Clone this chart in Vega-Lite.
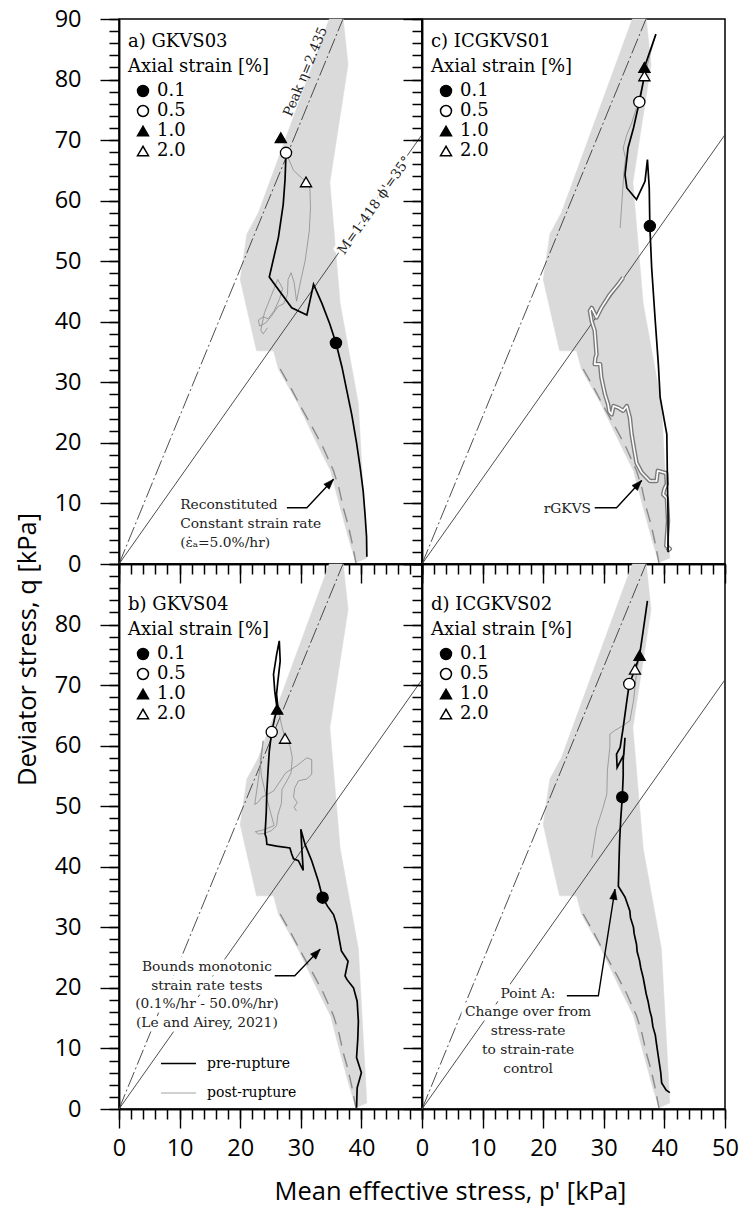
{
"$schema": "https://vega.github.io/schema/vega-lite/v6.json",
"background": "white",
"padding": {"left": 14, "top": 6, "right": 5, "bottom": 5},
"columns": 2,
"spacing": 0,
"bounds": "flush",
"config": {
 "view": {"stroke": "black", "strokeWidth": 1.5},
 "axis": {"grid": false, "domainColor": "black", "domainWidth": 1.5, "tickColor": "black", "tickWidth": 1.4, "labelFont": "Open Sans", "labelFontSize": 23.5, "labelColor": "black", "titleFont": "Open Sans", "titleFontSize": 25.5, "titleFontWeight": "normal", "titleColor": "black", "labelFlush": false, "labelOverlap": false, "labelBound": false},
 "legend": {"orient": "none", "padding": 0, "titleFont": "DejaVu Serif", "labelFont": "DejaVu Serif", "titleFontSize": 18, "labelFontSize": 18, "titleFontWeight": "normal", "titleColor": "black", "labelColor": "black", "titleLimit": 400, "labelLimit": 400},
 "text": {"font": "DejaVu Serif"}
},
"datasets": {
 "band": [{"i":1,"p":34.7,"q":90},{"i":2,"p":23.0,"q":58},{"i":3,"p":21.1,"q":54.5},{"i":4,"p":20.0,"q":47},{"i":5,"p":20.9,"q":43},{"i":6,"p":22.7,"q":35.2},{"i":7,"p":25.5,"q":35.2},{"i":8,"p":26.3,"q":32.2},{"i":9,"p":29.5,"q":26.5},{"i":10,"p":33.0,"q":19.2},{"i":11,"p":34.9,"q":15.4},{"i":12,"p":36.5,"q":9.3},{"i":13,"p":38.0,"q":3.8},{"i":14,"p":39.1,"q":0.2},{"i":15,"p":40.9,"q":1.0},{"i":16,"p":39.5,"q":26.5},{"i":17,"p":36.5,"q":43},{"i":18,"p":34.8,"q":63},{"i":19,"p":37.8,"q":82.5},{"i":20,"p":37.0,"q":90}],
 "bound": [{"i":1,"p":26.6,"q":32.2},{"i":2,"p":28.4,"q":29.0},{"i":3,"p":30.1,"q":25.8},{"i":4,"p":32.0,"q":22.4},{"i":5,"p":33.7,"q":19.2},{"i":6,"p":35.4,"q":15.4},{"i":7,"p":36.3,"q":12.5},{"i":8,"p":37.0,"q":9.3},{"i":9,"p":37.8,"q":6.5},{"i":10,"p":38.4,"q":3.8},{"i":11,"p":39.1,"q":0.2}],
 "refl": [{"s":"M","p":0,"q":0},{"s":"M","p":50,"q":70.9},{"s":"peak","p":0,"q":0},{"s":"peak","p":36.96,"q":90}],
 "lab": [{"s":"peak","t":"Peak η=2.435","p":30.8,"q":81.3},{"s":"M","t":"M=1.418 ϕ'=35°","p":41.9,"q":59.4}],
 "mk": [
  {"pn":"A","strain":"0.1","p":35.8,"q":36.5},{"pn":"A","strain":"0.5","p":27.56,"q":67.9},{"pn":"A","strain":"1.0","p":26.7,"q":70.4},{"pn":"A","strain":"2.0","p":30.86,"q":63.1},
  {"pn":"B","strain":"0.1","p":33.6,"q":34.9},{"pn":"B","strain":"0.5","p":25.2,"q":62.25},{"pn":"B","strain":"1.0","p":26.1,"q":66.0},{"pn":"B","strain":"2.0","p":27.4,"q":61.2},
  {"pn":"C","strain":"0.1","p":37.6,"q":55.8},{"pn":"C","strain":"0.5","p":35.86,"q":76.3},{"pn":"C","strain":"1.0","p":36.7,"q":82.0},{"pn":"C","strain":"2.0","p":36.7,"q":80.6},
  {"pn":"D","strain":"0.1","p":33.05,"q":51.5},{"pn":"D","strain":"0.5","p":34.2,"q":70.2},{"pn":"D","strain":"1.0","p":35.9,"q":74.9},{"pn":"D","strain":"2.0","p":35.15,"q":72.6}
 ],
 "notes": [
  {"pn":"A","t":"Reconstituted\nConstant strain rate\n(ε̇ₐ=5.0%/hr)","p":10.1,"q":10.9},
  {"pn":"B","t":"Bounds monotonic\nstrain rate tests\n(0.1%/hr - 50.0%/hr)\n(Le and Airey, 2021)","p":14.5,"q":24.6},
  {"pn":"C","t":"rGKVS","p":27.9,"q":9.1},
  {"pn":"D","t":"Point A:\nChange over from\nstress-rate\nto strain-rate\ncontrol","p":17.5,"q":20.2}
 ],
 "arr": [
  {"pn":"A","i":1,"p":27.7,"q":9.3},{"pn":"A","i":2,"p":31.0,"q":9.3},{"pn":"A","i":3,"p":35.4,"q":14.0},
  {"pn":"B","i":1,"p":25.7,"q":22.0},{"pn":"B","i":2,"p":29.0,"q":22.0},{"pn":"B","i":3,"p":33.2,"q":26.4},
  {"pn":"C","i":1,"p":28.5,"q":9.3},{"pn":"C","i":2,"p":32.1,"q":9.3},{"pn":"C","i":3,"p":36.25,"q":13.8},
  {"pn":"D","i":1,"p":23.9,"q":18.7},{"pn":"D","i":2,"p":29.1,"q":18.7},{"pn":"D","i":3,"p":31.85,"q":36.3}
 ],
 "A": [
  {"s":"pre-rupture","i":1,"p":40.9,"q":1.2},{"s":"pre-rupture","i":2,"p":40.85,"q":4.5},{"s":"pre-rupture","i":3,"p":40.6,"q":8.2},{"s":"pre-rupture","i":4,"p":40.3,"q":12.0},{"s":"pre-rupture","i":5,"p":39.8,"q":15.9},{"s":"pre-rupture","i":6,"p":39.2,"q":20.0},{"s":"pre-rupture","i":7,"p":38.4,"q":24.7},{"s":"pre-rupture","i":8,"p":37.6,"q":28.6},{"s":"pre-rupture","i":9,"p":36.8,"q":32.5},{"s":"pre-rupture","i":10,"p":35.8,"q":36.5},{"s":"pre-rupture","i":11,"p":34.8,"q":39.6},{"s":"pre-rupture","i":12,"p":33.5,"q":43.0},{"s":"pre-rupture","i":13,"p":32.1,"q":46.2},{"s":"pre-rupture","i":14,"p":31.0,"q":41.1},{"s":"pre-rupture","i":15,"p":28.5,"q":42.3},{"s":"pre-rupture","i":16,"p":24.8,"q":47.4},{"s":"pre-rupture","i":17,"p":26.3,"q":53.9},{"s":"pre-rupture","i":18,"p":27.1,"q":59.4},{"s":"pre-rupture","i":19,"p":27.4,"q":63.5},{"s":"pre-rupture","i":20,"p":27.56,"q":67.9},
  {"s":"post-rupture","i":1,"p":27.56,"q":67.9},{"s":"post-rupture","i":2,"p":28.8,"q":65.0},{"s":"post-rupture","i":3,"p":30.1,"q":63.8},{"s":"post-rupture","i":4,"p":30.86,"q":63.1},{"s":"post-rupture","i":5,"p":31.5,"q":62.1},{"s":"post-rupture","i":6,"p":31.6,"q":58.8},{"s":"post-rupture","i":7,"p":31.4,"q":55.0},{"s":"post-rupture","i":8,"p":30.7,"q":50.0},{"s":"post-rupture","i":9,"p":30.1,"q":47.3},{"s":"post-rupture","i":10,"p":29.3,"q":43.4},{"s":"post-rupture","i":11,"p":28.9,"q":46.5},{"s":"post-rupture","i":12,"p":28.4,"q":48.1},{"s":"post-rupture","i":13,"p":27.9,"q":47.0},{"s":"post-rupture","i":14,"p":27.8,"q":44.5},{"s":"post-rupture","i":15,"p":27.2,"q":43.0},{"s":"post-rupture","i":16,"p":26.2,"q":42.5},{"s":"post-rupture","i":17,"p":25.2,"q":41.0},{"s":"post-rupture","i":18,"p":24.2,"q":39.8},{"s":"post-rupture","i":19,"p":23.2,"q":39.3},{"s":"post-rupture","i":20,"p":23.0,"q":40.3},{"s":"post-rupture","i":21,"p":23.8,"q":40.8},{"s":"post-rupture","i":22,"p":24.6,"q":40.5},{"s":"post-rupture","i":23,"p":25.6,"q":41.8},{"s":"post-rupture","i":24,"p":26.5,"q":43.8},{"s":"post-rupture","i":25,"p":27.0,"q":45.5},{"s":"post-rupture","i":26,"p":26.2,"q":47.0},{"s":"post-rupture","i":27,"p":25.6,"q":45.5},{"s":"post-rupture","i":28,"p":25.0,"q":44.0},{"s":"post-rupture","i":29,"p":24.0,"q":41.5},{"s":"post-rupture","i":30,"p":23.4,"q":38.6},{"s":"post-rupture","i":31,"p":23.8,"q":38.0},{"s":"post-rupture","i":32,"p":24.5,"q":39.0}
 ],
 "B": [
  {"s":"pre-rupture","i":1,"p":39.2,"q":0.2},{"s":"pre-rupture","i":2,"p":39.3,"q":3.5},{"s":"pre-rupture","i":3,"p":40.0,"q":6.0},{"s":"pre-rupture","i":4,"p":39.2,"q":8.5},{"s":"pre-rupture","i":5,"p":39.4,"q":11.5},{"s":"pre-rupture","i":6,"p":39.5,"q":14.5},{"s":"pre-rupture","i":7,"p":39.3,"q":17.8},{"s":"pre-rupture","i":8,"p":38.7,"q":20.0},{"s":"pre-rupture","i":9,"p":37.6,"q":21.4},{"s":"pre-rupture","i":10,"p":37.3,"q":22.0},{"s":"pre-rupture","i":11,"p":37.8,"q":24.4},{"s":"pre-rupture","i":12,"p":36.7,"q":26.1},{"s":"pre-rupture","i":13,"p":36.3,"q":28.3},{"s":"pre-rupture","i":14,"p":35.9,"q":30.5},{"s":"pre-rupture","i":15,"p":35.4,"q":32.1},{"s":"pre-rupture","i":16,"p":34.4,"q":33.5},{"s":"pre-rupture","i":17,"p":33.6,"q":34.9},{"s":"pre-rupture","i":18,"p":32.9,"q":37.6},{"s":"pre-rupture","i":19,"p":31.8,"q":41.0},{"s":"pre-rupture","i":20,"p":30.7,"q":43.7},{"s":"pre-rupture","i":21,"p":30.0,"q":46.2},{"s":"pre-rupture","i":22,"p":30.2,"q":42.5},{"s":"pre-rupture","i":23,"p":30.4,"q":39.4},{"s":"pre-rupture","i":24,"p":29.6,"q":41.0},{"s":"pre-rupture","i":25,"p":28.8,"q":41.3},{"s":"pre-rupture","i":26,"p":28.5,"q":42.1},{"s":"pre-rupture","i":27,"p":28.2,"q":43.1},{"s":"pre-rupture","i":28,"p":26.0,"q":43.4},{"s":"pre-rupture","i":29,"p":24.4,"q":43.7},{"s":"pre-rupture","i":30,"p":24.3,"q":44.8},{"s":"pre-rupture","i":31,"p":24.1,"q":45.4},{"s":"pre-rupture","i":32,"p":24.3,"q":49.0},{"s":"pre-rupture","i":33,"p":24.4,"q":52.5},{"s":"pre-rupture","i":34,"p":24.6,"q":56.0},{"s":"pre-rupture","i":35,"p":24.8,"q":59.1},{"s":"pre-rupture","i":36,"p":25.2,"q":62.25},{"s":"pre-rupture","i":37,"p":25.7,"q":64.6},{"s":"pre-rupture","i":38,"p":26.1,"q":66.0},{"s":"pre-rupture","i":39,"p":25.7,"q":69.0},{"s":"pre-rupture","i":40,"p":25.5,"q":71.8},{"s":"pre-rupture","i":41,"p":26.0,"q":75.0},{"s":"pre-rupture","i":42,"p":26.45,"q":77.3},{"s":"pre-rupture","i":43,"p":26.6,"q":74.0},{"s":"pre-rupture","i":44,"p":26.2,"q":70.5},{"s":"pre-rupture","i":45,"p":26.0,"q":68.5},{"s":"pre-rupture","i":46,"p":26.2,"q":66.5},
  {"s":"post-rupture","i":1,"p":26.2,"q":66.5},{"s":"post-rupture","i":2,"p":26.8,"q":63.5},{"s":"post-rupture","i":3,"p":27.4,"q":61.2},{"s":"post-rupture","i":4,"p":28.2,"q":60.0},{"s":"post-rupture","i":5,"p":28.6,"q":58.0},{"s":"post-rupture","i":6,"p":28.4,"q":55.5},{"s":"post-rupture","i":7,"p":27.6,"q":54.0},{"s":"post-rupture","i":8,"p":26.9,"q":52.8},{"s":"post-rupture","i":9,"p":26.8,"q":50.5},{"s":"post-rupture","i":10,"p":26.2,"q":48.5},{"s":"post-rupture","i":11,"p":26.0,"q":46.8},{"s":"post-rupture","i":12,"p":25.2,"q":46.0},{"s":"post-rupture","i":13,"p":24.0,"q":45.5},{"s":"post-rupture","i":14,"p":23.0,"q":45.4},{"s":"post-rupture","i":15,"p":22.5,"q":45.8},{"s":"post-rupture","i":16,"p":23.5,"q":46.0},{"s":"post-rupture","i":17,"p":24.6,"q":46.4},{"s":"post-rupture","i":18,"p":25.6,"q":46.8},{"s":"post-rupture","i":19,"p":25.0,"q":49.0},{"s":"post-rupture","i":20,"p":24.2,"q":52.0},{"s":"post-rupture","i":21,"p":23.5,"q":55.0},{"s":"post-rupture","i":22,"p":23.3,"q":57.5},{"s":"post-rupture","i":23,"p":23.8,"q":60.8},{"s":"post-rupture","i":24,"p":23.5,"q":58.0},{"s":"post-rupture","i":25,"p":23.0,"q":54.5},{"s":"post-rupture","i":26,"p":22.4,"q":50.3},{"s":"post-rupture","i":27,"p":22.9,"q":50.6},{"s":"post-rupture","i":28,"p":23.6,"q":51.5},{"s":"post-rupture","i":29,"p":25.5,"q":52.5},{"s":"post-rupture","i":30,"p":27.5,"q":55.5},{"s":"post-rupture","i":31,"p":29.5,"q":56.8},{"s":"post-rupture","i":32,"p":31.0,"q":58.0},{"s":"post-rupture","i":33,"p":31.8,"q":57.7},{"s":"post-rupture","i":34,"p":31.8,"q":55.3},{"s":"post-rupture","i":35,"p":31.0,"q":54.5},{"s":"post-rupture","i":36,"p":29.6,"q":54.2},{"s":"post-rupture","i":37,"p":29.0,"q":53.0},{"s":"post-rupture","i":38,"p":28.8,"q":51.5},{"s":"post-rupture","i":39,"p":29.4,"q":50.6},{"s":"post-rupture","i":40,"p":28.9,"q":49.8},{"s":"post-rupture","i":41,"p":29.3,"q":49.2}
 ],
 "C": [
  {"s":"pre-rupture","i":1,"p":40.6,"q":2.0},{"s":"pre-rupture","i":2,"p":40.6,"q":8.0},{"s":"pre-rupture","i":3,"p":40.5,"q":13.7},{"s":"pre-rupture","i":4,"p":40.4,"q":21.4},{"s":"pre-rupture","i":5,"p":39.3,"q":27.5},{"s":"pre-rupture","i":6,"p":39.0,"q":33.0},{"s":"pre-rupture","i":7,"p":38.5,"q":40.0},{"s":"pre-rupture","i":8,"p":37.9,"q":48.9},{"s":"pre-rupture","i":9,"p":37.6,"q":55.8},{"s":"pre-rupture","i":10,"p":37.5,"q":62.1},{"s":"pre-rupture","i":11,"p":37.2,"q":66.8},{"s":"pre-rupture","i":12,"p":36.8,"q":63.2},{"s":"pre-rupture","i":13,"p":35.4,"q":60.2},{"s":"pre-rupture","i":14,"p":33.8,"q":62.1},{"s":"pre-rupture","i":15,"p":33.5,"q":64.3},{"s":"pre-rupture","i":16,"p":34.0,"q":68.7},{"s":"pre-rupture","i":17,"p":34.9,"q":72.0},{"s":"pre-rupture","i":18,"p":35.86,"q":76.3},{"s":"pre-rupture","i":19,"p":36.7,"q":80.6},{"s":"pre-rupture","i":20,"p":36.7,"q":82.0},{"s":"pre-rupture","i":21,"p":38.6,"q":87.5},
  {"s":"post-rupture","i":1,"p":38.6,"q":87.5},{"s":"post-rupture","i":2,"p":37.6,"q":84.0},{"s":"post-rupture","i":3,"p":36.6,"q":80.0},{"s":"post-rupture","i":4,"p":35.6,"q":76.0},{"s":"post-rupture","i":5,"p":34.6,"q":72.8},{"s":"post-rupture","i":6,"p":33.8,"q":70.9},{"s":"post-rupture","i":7,"p":33.2,"q":68.7},{"s":"post-rupture","i":8,"p":33.6,"q":67.0},{"s":"post-rupture","i":9,"p":33.3,"q":64.5},{"s":"post-rupture","i":10,"p":33.1,"q":61.5},{"s":"post-rupture","i":11,"p":32.9,"q":58.5},{"s":"post-rupture","i":12,"p":32.7,"q":55.5},
  {"s":"rGKVS","i":1,"p":40.4,"q":2.1},{"s":"rGKVS","i":2,"p":40.9,"q":2.5},{"s":"rGKVS","i":3,"p":40.3,"q":3.0},{"s":"rGKVS","i":4,"p":40.6,"q":7.1},{"s":"rGKVS","i":5,"p":40.4,"q":10.9},{"s":"rGKVS","i":6,"p":39.8,"q":11.5},{"s":"rGKVS","i":7,"p":40.0,"q":12.4},{"s":"rGKVS","i":8,"p":40.4,"q":13.2},{"s":"rGKVS","i":9,"p":40.3,"q":15.0},{"s":"rGKVS","i":10,"p":38.9,"q":15.4},{"s":"rGKVS","i":11,"p":38.7,"q":13.7},{"s":"rGKVS","i":12,"p":37.6,"q":13.7},{"s":"rGKVS","i":13,"p":36.25,"q":15.1},{"s":"rGKVS","i":14,"p":35.4,"q":16.7},{"s":"rGKVS","i":15,"p":35.0,"q":19.0},{"s":"rGKVS","i":16,"p":34.6,"q":21.4},{"s":"rGKVS","i":17,"p":34.3,"q":24.2},{"s":"rGKVS","i":18,"p":33.8,"q":26.1},{"s":"rGKVS","i":19,"p":33.2,"q":25.3},{"s":"rGKVS","i":20,"p":32.4,"q":25.8},{"s":"rGKVS","i":21,"p":31.6,"q":26.1},{"s":"rGKVS","i":22,"p":31.3,"q":24.7},{"s":"rGKVS","i":23,"p":30.9,"q":25.2},{"s":"rGKVS","i":24,"p":30.7,"q":26.4},{"s":"rGKVS","i":25,"p":30.2,"q":28.0},{"s":"rGKVS","i":26,"p":29.6,"q":30.8},{"s":"rGKVS","i":27,"p":29.4,"q":33.0},{"s":"rGKVS","i":28,"p":28.5,"q":33.0},{"s":"rGKVS","i":29,"p":28.6,"q":34.0},{"s":"rGKVS","i":30,"p":28.8,"q":34.6},{"s":"rGKVS","i":31,"p":28.5,"q":38.5},{"s":"rGKVS","i":32,"p":28.0,"q":40.1},{"s":"rGKVS","i":33,"p":27.7,"q":41.8},{"s":"rGKVS","i":34,"p":28.0,"q":42.3},{"s":"rGKVS","i":35,"p":28.8,"q":40.7},{"s":"rGKVS","i":36,"p":29.6,"q":42.3},{"s":"rGKVS","i":37,"p":31.0,"q":44.5},{"s":"rGKVS","i":38,"p":32.4,"q":46.2},{"s":"rGKVS","i":39,"p":33.2,"q":47.3}
 ],
 "D": [
  {"s":"pre-rupture","i":1,"p":40.9,"q":2.7},{"s":"pre-rupture","i":2,"p":40.3,"q":3.1},{"s":"pre-rupture","i":3,"p":39.55,"q":4.3},{"s":"pre-rupture","i":4,"p":39.4,"q":6.0},{"s":"pre-rupture","i":5,"p":39.1,"q":8.0},{"s":"pre-rupture","i":6,"p":38.7,"q":10.7},{"s":"pre-rupture","i":7,"p":38.5,"q":12.2},{"s":"pre-rupture","i":8,"p":38.1,"q":13.6},{"s":"pre-rupture","i":9,"p":37.9,"q":15.1},{"s":"pre-rupture","i":10,"p":37.6,"q":16.2},{"s":"pre-rupture","i":11,"p":37.3,"q":17.8},{"s":"pre-rupture","i":12,"p":37.0,"q":19.0},{"s":"pre-rupture","i":13,"p":36.7,"q":20.6},{"s":"pre-rupture","i":14,"p":36.5,"q":21.7},{"s":"pre-rupture","i":15,"p":36.1,"q":23.3},{"s":"pre-rupture","i":16,"p":35.9,"q":24.5},{"s":"pre-rupture","i":17,"p":35.5,"q":26.0},{"s":"pre-rupture","i":18,"p":35.4,"q":27.2},{"s":"pre-rupture","i":19,"p":35.0,"q":29.0},{"s":"pre-rupture","i":20,"p":34.9,"q":30.0},{"s":"pre-rupture","i":21,"p":34.4,"q":31.6},{"s":"pre-rupture","i":22,"p":34.3,"q":32.7},{"s":"pre-rupture","i":23,"p":33.5,"q":35.0},{"s":"pre-rupture","i":24,"p":32.4,"q":36.8},{"s":"pre-rupture","i":25,"p":32.6,"q":44.0},{"s":"pre-rupture","i":26,"p":32.8,"q":48.0},{"s":"pre-rupture","i":27,"p":33.05,"q":51.5},{"s":"pre-rupture","i":28,"p":33.2,"q":55.0},{"s":"pre-rupture","i":29,"p":33.2,"q":57.5},{"s":"pre-rupture","i":30,"p":33.5,"q":61.3},{"s":"pre-rupture","i":31,"p":33.3,"q":58.5},{"s":"pre-rupture","i":32,"p":32.2,"q":56.4},{"s":"pre-rupture","i":33,"p":32.1,"q":58.6},{"s":"pre-rupture","i":34,"p":32.7,"q":59.7},{"s":"pre-rupture","i":35,"p":33.2,"q":63.0},{"s":"pre-rupture","i":36,"p":33.8,"q":67.4},{"s":"pre-rupture","i":37,"p":34.2,"q":70.2},{"s":"pre-rupture","i":38,"p":35.15,"q":72.6},{"s":"pre-rupture","i":39,"p":35.9,"q":74.9},{"s":"pre-rupture","i":40,"p":36.5,"q":79.0},{"s":"pre-rupture","i":41,"p":37.2,"q":83.9},
  {"s":"post-rupture","i":1,"p":36.0,"q":75.5},{"s":"post-rupture","i":2,"p":35.4,"q":72.0},{"s":"post-rupture","i":3,"p":34.9,"q":67.4},{"s":"post-rupture","i":4,"p":34.3,"q":64.1},{"s":"post-rupture","i":5,"p":33.0,"q":63.2},{"s":"post-rupture","i":6,"p":31.8,"q":62.5},{"s":"post-rupture","i":7,"p":31.0,"q":61.9},{"s":"post-rupture","i":8,"p":31.0,"q":59.7},{"s":"post-rupture","i":9,"p":30.6,"q":56.0},{"s":"post-rupture","i":10,"p":30.5,"q":52.0},{"s":"post-rupture","i":11,"p":29.8,"q":49.5},{"s":"post-rupture","i":12,"p":28.8,"q":46.4},{"s":"post-rupture","i":13,"p":28.0,"q":41.5}
 ]
},
"resolve": {"legend": {"shape": "independent", "fill": "independent", "color": "independent", "strokeWidth": "independent"}},
"concat": [
 {
  "width": 303, "height": 545,
  "resolve": {"axis": {"x": "independent", "y": "independent"}},
  "encoding": {
   "x": {"field": "p", "type": "quantitative", "scale": {"domain": [0, 50], "nice": false}, "axis": null},
   "y": {"field": "q", "type": "quantitative", "scale": {"domain": [0, 90], "nice": false}, "axis": null}
  },
  "layer": [
   {"data": {"name": "band"}, "mark": {"type": "line", "fill": "#dadada", "stroke": "#dadada", "strokeWidth": 0.5, "interpolate": "linear-closed"},
    "encoding": {"order": {"field": "i", "type": "quantitative"},
     "x": {"field": "p", "type": "quantitative", "scale": {"domain": [0, 50], "nice": false}, "axis": {"orient": "bottom", "values": [0,2,4,6,8,10,12,14,16,18,20,22,24,26,28,30,32,34,36,38,40,42,44,46,48,50], "tickSize": 10, "tickColor": "black", "tickWidth": 1.5, "labels": false, "title": null}},
     "y": {"field": "q", "type": "quantitative", "scale": {"domain": [0, 90], "nice": false}, "axis": {"orient": "left", "values": [0,2,4,6,8,10,12,14,16,18,20,22,24,26,28,30,32,34,36,38,40,42,44,46,48,50,52,54,56,58,60,62,64,66,68,70,72,74,76,78,80,82,84,86,88,90], "tickSize": 10, "tickColor": "black", "tickWidth": 1.5, "labels": false, "title": null}}}},
   {"data": {"name": "bound"}, "mark": {"type": "line", "stroke": "#8a8a8a", "strokeWidth": 1.4, "strokeDash": [14, 8]},
    "encoding": {"order": {"field": "i", "type": "quantitative"},
     "x": {"field": "p", "type": "quantitative", "scale": {"domain": [0, 50], "nice": false}, "axis": {"orient": "bottom", "values": [0,10,20,30,40,50], "tickSize": 19, "labels": false, "title": null}},
     "y": {"field": "q", "type": "quantitative", "scale": {"domain": [0, 90], "nice": false}, "axis": {"orient": "left", "values": [0,10,20,30,40,50,60,70,80,90], "tickSize": 19, "labelPadding": 19, "title": "Deviator stress, q [kPa]", "titleX": -84, "titleY": 630, "titleBaseline": "alphabetic"}}}},
   {"data": {"name": "refl"}, "transform": [{"filter": "datum.s === 'M'"}], "mark": {"type": "line", "stroke": "#3a3a3a", "strokeWidth": 0.9}, "encoding": {}},
   {"data": {"name": "refl"}, "transform": [{"filter": "datum.s === 'peak'"}], "mark": {"type": "line", "stroke": "#3a3a3a", "strokeWidth": 0.9, "strokeDash": [16, 3, 2, 3]}, "encoding": {}},
   {"data": {"name": "lab"}, "transform": [{"filter": "datum.s === 'M'"}], "mark": {"type": "text", "angle": -54.8, "align": "center", "baseline": "middle", "dy": 2, "fontSize": 13.5, "fill": "white", "stroke": "white", "strokeWidth": 6, "strokeJoin": "round"}, "encoding": {"text": {"field": "t"}}},
   {"data": {"name": "lab"}, "transform": [{"filter": "datum.s === 'M'"}], "mark": {"type": "text", "angle": -54.8, "align": "center", "baseline": "middle", "dy": 2, "fontSize": 13.5, "fill": "#222"}, "encoding": {"text": {"field": "t"}}},
   {"data": {"name": "lab"}, "transform": [{"filter": "datum.s === 'peak'"}], "mark": {"type": "text", "angle": -67.7, "align": "center", "baseline": "middle", "fontSize": 13.5, "fill": "#222"}, "encoding": {"text": {"field": "t"}}},
   {"data": {"name": "notes"}, "transform": [{"filter": "datum.pn === 'A'"}], "mark": {"type": "text", "align": "left", "baseline": "top", "lineBreak": "\n", "lineHeight": 19, "fontSize": 13.8, "fill": "#222"}, "encoding": {"text": {"field": "t"}}},
   {"data": {"name": "arr"}, "transform": [{"filter": "datum.pn === 'A'"}], "mark": {"type": "line", "stroke": "black", "strokeWidth": 1.4}, "encoding": {"order": {"field": "i", "type": "quantitative"}}},
   {"data": {"name": "arr"}, "transform": [{"filter": "datum.pn === 'A' && datum.i === 3"}], "mark": {"type": "point", "shape": "M0,0L0.65,1.8L-0.65,1.8Z", "filled": true, "fill": "black", "stroke": "black", "strokeWidth": 0.5, "size": 130, "angle": 43, "opacity": 1}, "encoding": {}},
   {"data": {"name": "A"}, "transform": [{"filter": "datum.s === 'post-rupture'"}], "mark": {"type": "line"}, "encoding": {"order": {"field": "i", "type": "quantitative"}, "color": {"field": "s", "type": "nominal", "scale": {"domain": ["pre-rupture", "post-rupture"], "range": ["#000000", "#8c8c8c"]}, "legend": null}, "strokeWidth": {"field": "s", "type": "ordinal", "scale": {"domain": ["pre-rupture", "post-rupture"], "range": [1.7, 0.8]}, "legend": null}}},
   {"data": {"name": "A"}, "transform": [{"filter": "datum.s === 'pre-rupture'"}], "mark": {"type": "line"}, "encoding": {"order": {"field": "i", "type": "quantitative"}, "color": {"field": "s", "type": "nominal", "scale": {"domain": ["pre-rupture", "post-rupture"], "range": ["#000000", "#8c8c8c"]}, "legend": null}, "strokeWidth": {"field": "s", "type": "ordinal", "scale": {"domain": ["pre-rupture", "post-rupture"], "range": [1.7, 0.8]}, "legend": null}}},
   {"data": {"name": "mk"}, "transform": [{"filter": "datum.pn === 'A'"}], "mark": {"type": "point", "filled": true, "stroke": "black", "strokeWidth": 1.3, "size": 125, "opacity": 1},
    "encoding": {
     "shape": {"field": "strain", "type": "nominal", "scale": {"domain": ["0.1", "0.5", "1.0", "2.0"], "range": ["circle", "circle", "triangle-up", "triangle-up"]}, "legend": {"title": ["a) GKVS03", "Axial strain [%]"], "legendX": 9, "legendY": 14, "titleLineHeight": 25, "titlePadding": 6, "symbolOffset": 6, "labelOffset": 5, "rowPadding": 2, "symbolSize": 120, "encode": {"symbols": {"update": {"stroke": {"value": "black"}, "strokeWidth": {"value": 1.3}}}}}},
     "fill": {"field": "strain", "type": "nominal", "scale": {"domain": ["0.1", "0.5", "1.0", "2.0"], "range": ["black", "white", "black", "white"]}, "legend": {"title": ["a) GKVS03", "Axial strain [%]"], "legendX": 9, "legendY": 14, "titleLineHeight": 25, "titlePadding": 6, "symbolOffset": 6, "labelOffset": 5, "rowPadding": 2, "symbolSize": 120, "encode": {"symbols": {"update": {"stroke": {"value": "black"}, "strokeWidth": {"value": 1.3}}}}}}
    }}
  ]
 },
 {
  "width": 303, "height": 545,
  "resolve": {"axis": {"x": "independent", "y": "independent"}},
  "encoding": {
   "x": {"field": "p", "type": "quantitative", "scale": {"domain": [0, 50], "nice": false}, "axis": null},
   "y": {"field": "q", "type": "quantitative", "scale": {"domain": [0, 90], "nice": false}, "axis": null}
  },
  "layer": [
   {"data": {"name": "band"}, "mark": {"type": "line", "fill": "#dadada", "stroke": "#dadada", "strokeWidth": 0.5, "interpolate": "linear-closed"},
    "encoding": {"order": {"field": "i", "type": "quantitative"},
     "x": {"field": "p", "type": "quantitative", "scale": {"domain": [0, 50], "nice": false}, "axis": {"orient": "bottom", "values": [0,2,4,6,8,10,12,14,16,18,20,22,24,26,28,30,32,34,36,38,40,42,44,46,48,50], "tickSize": 10, "tickColor": "black", "tickWidth": 1.5, "labels": false, "title": null}},
     "y": {"field": "q", "type": "quantitative", "scale": {"domain": [0, 90], "nice": false}, "axis": {"orient": "left", "values": [0,2,4,6,8,10,12,14,16,18,20,22,24,26,28,30,32,34,36,38,40,42,44,46,48,50,52,54,56,58,60,62,64,66,68,70,72,74,76,78,80,82,84,86,88,90], "tickSize": 10, "tickColor": "black", "tickWidth": 1.5, "labels": false, "title": null}}}},
   {"data": {"name": "bound"}, "mark": {"type": "line", "stroke": "#8a8a8a", "strokeWidth": 1.4, "strokeDash": [14, 8]},
    "encoding": {"order": {"field": "i", "type": "quantitative"},
     "x": {"field": "p", "type": "quantitative", "scale": {"domain": [0, 50], "nice": false}, "axis": {"orient": "bottom", "values": [0,10,20,30,40,50], "tickSize": 19, "labels": false, "title": null}},
     "y": {"field": "q", "type": "quantitative", "scale": {"domain": [0, 90], "nice": false}, "axis": {"orient": "left", "values": [0,10,20,30,40,50,60,70,80,90], "tickSize": 19, "labels": false, "title": null}}}},
   {"data": {"name": "refl"}, "transform": [{"filter": "datum.s === 'M'"}], "mark": {"type": "line", "stroke": "#3a3a3a", "strokeWidth": 0.9}, "encoding": {}},
   {"data": {"name": "refl"}, "transform": [{"filter": "datum.s === 'peak'"}], "mark": {"type": "line", "stroke": "#3a3a3a", "strokeWidth": 0.9, "strokeDash": [16, 3, 2, 3]}, "encoding": {}},
   {"data": {"name": "notes"}, "transform": [{"filter": "datum.pn === 'C'"}], "mark": {"type": "text", "align": "right", "baseline": "middle", "fontSize": 13.8, "fill": "#222"}, "encoding": {"text": {"field": "t"}}},
   {"data": {"name": "arr"}, "transform": [{"filter": "datum.pn === 'C'"}], "mark": {"type": "line", "stroke": "black", "strokeWidth": 1.4}, "encoding": {"order": {"field": "i", "type": "quantitative"}}},
   {"data": {"name": "arr"}, "transform": [{"filter": "datum.pn === 'C' && datum.i === 3"}], "mark": {"type": "point", "shape": "M0,0L0.65,1.8L-0.65,1.8Z", "filled": true, "fill": "black", "stroke": "black", "strokeWidth": 0.5, "size": 130, "angle": 42.7, "opacity": 1}, "encoding": {}},
   {"data": {"name": "C"}, "transform": [{"filter": "datum.s === 'post-rupture'"}], "mark": {"type": "line"}, "encoding": {"order": {"field": "i", "type": "quantitative"}, "color": {"field": "s", "type": "nominal", "scale": {"domain": ["pre-rupture", "post-rupture"], "range": ["#000000", "#8c8c8c"]}, "legend": null}, "strokeWidth": {"field": "s", "type": "ordinal", "scale": {"domain": ["pre-rupture", "post-rupture"], "range": [1.7, 0.8]}, "legend": null}}},
   {"data": {"name": "C"}, "transform": [{"filter": "datum.s === 'rGKVS'"}], "mark": {"type": "line", "stroke": "#7a7a7a", "strokeWidth": 4.4, "strokeJoin": "round"}, "encoding": {"order": {"field": "i", "type": "quantitative"}}},
   {"data": {"name": "C"}, "transform": [{"filter": "datum.s === 'rGKVS'"}], "mark": {"type": "line", "stroke": "white", "strokeWidth": 1.6, "strokeJoin": "round"}, "encoding": {"order": {"field": "i", "type": "quantitative"}}},
   {"data": {"name": "C"}, "transform": [{"filter": "datum.s === 'pre-rupture'"}], "mark": {"type": "line"}, "encoding": {"order": {"field": "i", "type": "quantitative"}, "color": {"field": "s", "type": "nominal", "scale": {"domain": ["pre-rupture", "post-rupture"], "range": ["#000000", "#8c8c8c"]}, "legend": null}, "strokeWidth": {"field": "s", "type": "ordinal", "scale": {"domain": ["pre-rupture", "post-rupture"], "range": [1.7, 0.8]}, "legend": null}}},
   {"data": {"name": "mk"}, "transform": [{"filter": "datum.pn === 'C'"}], "mark": {"type": "point", "filled": true, "stroke": "black", "strokeWidth": 1.3, "size": 125, "opacity": 1},
    "encoding": {
     "shape": {"field": "strain", "type": "nominal", "scale": {"domain": ["0.1", "0.5", "1.0", "2.0"], "range": ["circle", "circle", "triangle-up", "triangle-up"]}, "legend": {"title": ["c) ICGKVS01", "Axial strain [%]"], "legendX": 9, "legendY": 14, "titleLineHeight": 25, "titlePadding": 6, "symbolOffset": 6, "labelOffset": 5, "rowPadding": 2, "symbolSize": 120, "encode": {"symbols": {"update": {"stroke": {"value": "black"}, "strokeWidth": {"value": 1.3}}}}}},
     "fill": {"field": "strain", "type": "nominal", "scale": {"domain": ["0.1", "0.5", "1.0", "2.0"], "range": ["black", "white", "black", "white"]}, "legend": {"title": ["c) ICGKVS01", "Axial strain [%]"], "legendX": 9, "legendY": 14, "titleLineHeight": 25, "titlePadding": 6, "symbolOffset": 6, "labelOffset": 5, "rowPadding": 2, "symbolSize": 120, "encode": {"symbols": {"update": {"stroke": {"value": "black"}, "strokeWidth": {"value": 1.3}}}}}}
    }}
  ]
 },
 {
  "width": 303, "height": 545,
  "resolve": {"axis": {"x": "independent", "y": "independent"}},
  "encoding": {
   "x": {"field": "p", "type": "quantitative", "scale": {"domain": [0, 50], "nice": false}, "axis": null},
   "y": {"field": "q", "type": "quantitative", "scale": {"domain": [0, 90], "nice": false}, "axis": null}
  },
  "layer": [
   {"data": {"name": "band"}, "mark": {"type": "line", "fill": "#dadada", "stroke": "#dadada", "strokeWidth": 0.5, "interpolate": "linear-closed"},
    "encoding": {"order": {"field": "i", "type": "quantitative"},
     "x": {"field": "p", "type": "quantitative", "scale": {"domain": [0, 50], "nice": false}, "axis": {"orient": "bottom", "values": [0,2,4,6,8,10,12,14,16,18,20,22,24,26,28,30,32,34,36,38,40,42,44,46,48,50], "tickSize": 10, "tickColor": "black", "tickWidth": 1.5, "labels": false, "title": null}},
     "y": {"field": "q", "type": "quantitative", "scale": {"domain": [0, 90], "nice": false}, "axis": {"orient": "left", "values": [0,2,4,6,8,10,12,14,16,18,20,22,24,26,28,30,32,34,36,38,40,42,44,46,48,50,52,54,56,58,60,62,64,66,68,70,72,74,76,78,80,82,84,86,88,90], "tickSize": 10, "tickColor": "black", "tickWidth": 1.5, "labels": false, "title": null}}}},
   {"data": {"name": "bound"}, "mark": {"type": "line", "stroke": "#8a8a8a", "strokeWidth": 1.4, "strokeDash": [14, 8]},
    "encoding": {"order": {"field": "i", "type": "quantitative"},
     "x": {"field": "p", "type": "quantitative", "scale": {"domain": [0, 50], "nice": false}, "axis": {"orient": "bottom", "values": [0,10,20,30,40], "tickSize": 19, "labelPadding": 8, "title": "Mean effective stress, p' [kPa]", "titleX": 331, "titleY": 90, "titleBaseline": "alphabetic"}},
     "y": {"field": "q", "type": "quantitative", "scale": {"domain": [0, 90], "nice": false}, "axis": {"orient": "left", "values": [0,10,20,30,40,50,60,70,80], "tickSize": 19, "labelPadding": 19, "title": null}}}},
   {"data": {"name": "refl"}, "transform": [{"filter": "datum.s === 'M'"}], "mark": {"type": "line", "stroke": "#3a3a3a", "strokeWidth": 0.9}, "encoding": {}},
   {"data": {"name": "refl"}, "transform": [{"filter": "datum.s === 'peak'"}], "mark": {"type": "line", "stroke": "#3a3a3a", "strokeWidth": 0.9, "strokeDash": [16, 3, 2, 3]}, "encoding": {}},
   {"data": {"name": "notes"}, "transform": [{"filter": "datum.pn === 'B'"}], "mark": {"type": "text", "align": "center", "baseline": "top", "lineBreak": "\n", "lineHeight": 18.7, "fontSize": 13.8, "fill": "white", "stroke": "white", "strokeWidth": 9, "strokeJoin": "round"}, "encoding": {"text": {"field": "t"}}},
   {"data": {"name": "notes"}, "transform": [{"filter": "datum.pn === 'B'"}], "mark": {"type": "text", "align": "center", "baseline": "top", "lineBreak": "\n", "lineHeight": 18.7, "fontSize": 13.8, "fill": "#222"}, "encoding": {"text": {"field": "t"}}},
   {"data": {"name": "arr"}, "transform": [{"filter": "datum.pn === 'B'"}], "mark": {"type": "line", "stroke": "black", "strokeWidth": 1.4}, "encoding": {"order": {"field": "i", "type": "quantitative"}}},
   {"data": {"name": "arr"}, "transform": [{"filter": "datum.pn === 'B' && datum.i === 3"}], "mark": {"type": "point", "shape": "M0,0L0.65,1.8L-0.65,1.8Z", "filled": true, "fill": "black", "stroke": "black", "strokeWidth": 0.5, "size": 130, "angle": 43, "opacity": 1}, "encoding": {}},
   {"data": {"name": "B"}, "transform": [{"filter": "datum.s === 'post-rupture'"}], "mark": {"type": "line"}, "encoding": {"order": {"field": "i", "type": "quantitative"}, "color": {"field": "s", "type": "nominal", "scale": {"domain": ["pre-rupture", "post-rupture"], "range": ["#000000", "#8c8c8c"]}, "legend": {"title": null, "legendX": 41, "legendY": 481, "symbolType": "stroke", "symbolSize": 1225, "labelFontSize": 14, "labelOffset": 10, "rowPadding": 4}}, "strokeWidth": {"field": "s", "type": "ordinal", "scale": {"domain": ["pre-rupture", "post-rupture"], "range": [1.7, 0.8]}, "legend": {"title": null, "legendX": 41, "legendY": 481, "symbolType": "stroke", "symbolSize": 1225, "labelFontSize": 14, "labelOffset": 10, "rowPadding": 4}}}},
   {"data": {"name": "B"}, "transform": [{"filter": "datum.s === 'pre-rupture'"}], "mark": {"type": "line"}, "encoding": {"order": {"field": "i", "type": "quantitative"}, "color": {"field": "s", "type": "nominal", "scale": {"domain": ["pre-rupture", "post-rupture"], "range": ["#000000", "#8c8c8c"]}, "legend": {"title": null, "legendX": 41, "legendY": 481, "symbolType": "stroke", "symbolSize": 1225, "labelFontSize": 14, "labelOffset": 10, "rowPadding": 4}}, "strokeWidth": {"field": "s", "type": "ordinal", "scale": {"domain": ["pre-rupture", "post-rupture"], "range": [1.7, 0.8]}, "legend": {"title": null, "legendX": 41, "legendY": 481, "symbolType": "stroke", "symbolSize": 1225, "labelFontSize": 14, "labelOffset": 10, "rowPadding": 4}}}},
   {"data": {"name": "mk"}, "transform": [{"filter": "datum.pn === 'B'"}], "mark": {"type": "point", "filled": true, "stroke": "black", "strokeWidth": 1.3, "size": 125, "opacity": 1},
    "encoding": {
     "shape": {"field": "strain", "type": "nominal", "scale": {"domain": ["0.1", "0.5", "1.0", "2.0"], "range": ["circle", "circle", "triangle-up", "triangle-up"]}, "legend": {"title": ["b) GKVS04", "Axial strain [%]"], "legendX": 9, "legendY": 32, "titleLineHeight": 25, "titlePadding": 6, "symbolOffset": 6, "labelOffset": 5, "rowPadding": 2, "symbolSize": 120, "encode": {"symbols": {"update": {"stroke": {"value": "black"}, "strokeWidth": {"value": 1.3}}}}}},
     "fill": {"field": "strain", "type": "nominal", "scale": {"domain": ["0.1", "0.5", "1.0", "2.0"], "range": ["black", "white", "black", "white"]}, "legend": {"title": ["b) GKVS04", "Axial strain [%]"], "legendX": 9, "legendY": 32, "titleLineHeight": 25, "titlePadding": 6, "symbolOffset": 6, "labelOffset": 5, "rowPadding": 2, "symbolSize": 120, "encode": {"symbols": {"update": {"stroke": {"value": "black"}, "strokeWidth": {"value": 1.3}}}}}}
    }}
  ]
 },
 {
  "width": 303, "height": 545,
  "resolve": {"axis": {"x": "independent", "y": "independent"}},
  "encoding": {
   "x": {"field": "p", "type": "quantitative", "scale": {"domain": [0, 50], "nice": false}, "axis": null},
   "y": {"field": "q", "type": "quantitative", "scale": {"domain": [0, 90], "nice": false}, "axis": null}
  },
  "layer": [
   {"data": {"name": "band"}, "mark": {"type": "line", "fill": "#dadada", "stroke": "#dadada", "strokeWidth": 0.5, "interpolate": "linear-closed"},
    "encoding": {"order": {"field": "i", "type": "quantitative"},
     "x": {"field": "p", "type": "quantitative", "scale": {"domain": [0, 50], "nice": false}, "axis": {"orient": "bottom", "values": [0,2,4,6,8,10,12,14,16,18,20,22,24,26,28,30,32,34,36,38,40,42,44,46,48,50], "tickSize": 10, "tickColor": "black", "tickWidth": 1.5, "labels": false, "title": null}},
     "y": {"field": "q", "type": "quantitative", "scale": {"domain": [0, 90], "nice": false}, "axis": {"orient": "left", "values": [0,2,4,6,8,10,12,14,16,18,20,22,24,26,28,30,32,34,36,38,40,42,44,46,48,50,52,54,56,58,60,62,64,66,68,70,72,74,76,78,80,82,84,86,88,90], "tickSize": 10, "tickColor": "black", "tickWidth": 1.5, "labels": false, "title": null}}}},
   {"data": {"name": "bound"}, "mark": {"type": "line", "stroke": "#8a8a8a", "strokeWidth": 1.4, "strokeDash": [14, 8]},
    "encoding": {"order": {"field": "i", "type": "quantitative"},
     "x": {"field": "p", "type": "quantitative", "scale": {"domain": [0, 50], "nice": false}, "axis": {"orient": "bottom", "values": [0,10,20,30,40,50], "tickSize": 19, "labelPadding": 8, "title": null}},
     "y": {"field": "q", "type": "quantitative", "scale": {"domain": [0, 90], "nice": false}, "axis": {"orient": "left", "values": [0,10,20,30,40,50,60,70,80,90], "tickSize": 19, "labels": false, "title": null}}}},
   {"data": {"name": "refl"}, "transform": [{"filter": "datum.s === 'M'"}], "mark": {"type": "line", "stroke": "#3a3a3a", "strokeWidth": 0.9}, "encoding": {}},
   {"data": {"name": "refl"}, "transform": [{"filter": "datum.s === 'peak'"}], "mark": {"type": "line", "stroke": "#3a3a3a", "strokeWidth": 0.9, "strokeDash": [16, 3, 2, 3]}, "encoding": {}},
   {"data": {"name": "notes"}, "transform": [{"filter": "datum.pn === 'D'"}], "mark": {"type": "text", "align": "center", "baseline": "top", "lineBreak": "\n", "lineHeight": 18.8, "fontSize": 13.8, "fill": "white", "stroke": "white", "strokeWidth": 9, "strokeJoin": "round"}, "encoding": {"text": {"field": "t"}}},
   {"data": {"name": "notes"}, "transform": [{"filter": "datum.pn === 'D'"}], "mark": {"type": "text", "align": "center", "baseline": "top", "lineBreak": "\n", "lineHeight": 18.8, "fontSize": 13.8, "fill": "#222"}, "encoding": {"text": {"field": "t"}}},
   {"data": {"name": "arr"}, "transform": [{"filter": "datum.pn === 'D'"}], "mark": {"type": "line", "stroke": "black", "strokeWidth": 1.4}, "encoding": {"order": {"field": "i", "type": "quantitative"}}},
   {"data": {"name": "arr"}, "transform": [{"filter": "datum.pn === 'D' && datum.i === 3"}], "mark": {"type": "point", "shape": "M0,0L0.65,1.8L-0.65,1.8Z", "filled": true, "fill": "black", "stroke": "black", "strokeWidth": 0.5, "size": 130, "angle": 8.9, "opacity": 1}, "encoding": {}},
   {"data": {"name": "D"}, "transform": [{"filter": "datum.s === 'post-rupture'"}], "mark": {"type": "line"}, "encoding": {"order": {"field": "i", "type": "quantitative"}, "color": {"field": "s", "type": "nominal", "scale": {"domain": ["pre-rupture", "post-rupture"], "range": ["#000000", "#8c8c8c"]}, "legend": null}, "strokeWidth": {"field": "s", "type": "ordinal", "scale": {"domain": ["pre-rupture", "post-rupture"], "range": [1.7, 0.8]}, "legend": null}}},
   {"data": {"name": "D"}, "transform": [{"filter": "datum.s === 'pre-rupture'"}], "mark": {"type": "line"}, "encoding": {"order": {"field": "i", "type": "quantitative"}, "color": {"field": "s", "type": "nominal", "scale": {"domain": ["pre-rupture", "post-rupture"], "range": ["#000000", "#8c8c8c"]}, "legend": null}, "strokeWidth": {"field": "s", "type": "ordinal", "scale": {"domain": ["pre-rupture", "post-rupture"], "range": [1.7, 0.8]}, "legend": null}}},
   {"data": {"name": "mk"}, "transform": [{"filter": "datum.pn === 'D'"}], "mark": {"type": "point", "filled": true, "stroke": "black", "strokeWidth": 1.3, "size": 125, "opacity": 1},
    "encoding": {
     "shape": {"field": "strain", "type": "nominal", "scale": {"domain": ["0.1", "0.5", "1.0", "2.0"], "range": ["circle", "circle", "triangle-up", "triangle-up"]}, "legend": {"title": ["d) ICGKVS02", "Axial strain [%]"], "legendX": 9, "legendY": 32, "titleLineHeight": 25, "titlePadding": 6, "symbolOffset": 6, "labelOffset": 5, "rowPadding": 2, "symbolSize": 120, "encode": {"symbols": {"update": {"stroke": {"value": "black"}, "strokeWidth": {"value": 1.3}}}}}},
     "fill": {"field": "strain", "type": "nominal", "scale": {"domain": ["0.1", "0.5", "1.0", "2.0"], "range": ["black", "white", "black", "white"]}, "legend": {"title": ["d) ICGKVS02", "Axial strain [%]"], "legendX": 9, "legendY": 32, "titleLineHeight": 25, "titlePadding": 6, "symbolOffset": 6, "labelOffset": 5, "rowPadding": 2, "symbolSize": 120, "encode": {"symbols": {"update": {"stroke": {"value": "black"}, "strokeWidth": {"value": 1.3}}}}}}
    }}
  ]
 }
]
}
